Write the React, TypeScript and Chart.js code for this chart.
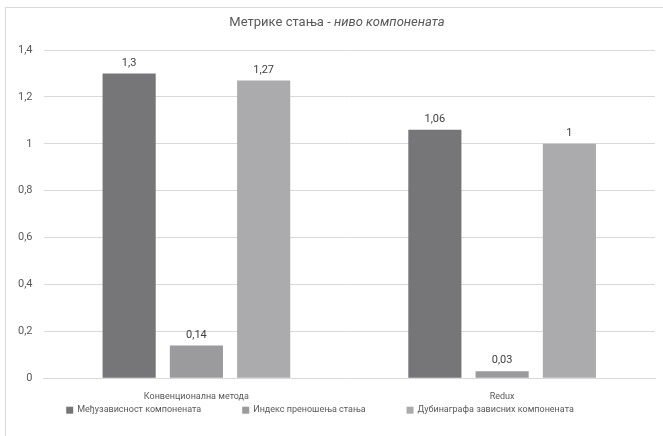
import React, { useEffect, useRef } from "react";
import { Chart, registerables } from "chart.js";

Chart.register(...registerables);

const categories = ["Конвенционална метода", "Redux"];
const seriesNames = ["Међузависност компонената", "Индекс преношења стања", "Дубинаграфа зависних компонената"];
const seriesA = [1.3, 1.06];
const seriesB = [0.14, 0.03];
const seriesC = [1.27, 1];
const seriesColors = ["#767679", "#9b9b9d", "#ababae"];
const yTicks = [0, 0.2, 0.4, 0.6, 0.8, 1, 1.2, 1.4];

const FONT = "Roboto, 'Open Sans', sans-serif";
const fmt = (v: number) => String(v).replace(".", ",");

const customPlugin = {
  id: "custom",
  afterDatasetsDraw(chart: any) {
    const ctx = chart.ctx;
    ctx.save();
    ctx.fillStyle = "#404040";
    ctx.font = `11px ${FONT}`;
    ctx.textAlign = "center";
    ctx.textBaseline = "bottom";
    chart.data.datasets.forEach((ds: any, i: number) => {
      const meta = chart.getDatasetMeta(i);
      meta.data.forEach((bar: any, j: number) => {
        ctx.fillText(fmt(ds.data[j]), bar.x, bar.y - 5);
      });
    });
    ctx.restore();
  },
  afterDraw(chart: any) {
    const ctx = chart.ctx;
    const area = chart.chartArea;
    ctx.save();
    // title
    const t1 = "Метрике стања - ";
    const t2 = "ниво компонената";
    ctx.fillStyle = "#595959";
    ctx.textBaseline = "middle";
    ctx.font = `13px ${FONT}`;
    const w1 = ctx.measureText(t1).width;
    ctx.font = `italic 13px ${FONT}`;
    const w2 = ctx.measureText(t2).width;
    const cx = 337;
    let x = cx - (w1 + w2) / 2;
    ctx.textAlign = "left";
    ctx.font = `13px ${FONT}`;
    ctx.fillText(t1, x, 23);
    ctx.font = `italic 13px ${FONT}`;
    ctx.fillText(t2, x + w1, 23);
    // legend
    ctx.font = `9px ${FONT}`;
    const box = 7;
    const gap = 4;
    const spacing = 41;
    const widths = seriesNames.map((n) => box + gap + ctx.measureText(n).width);
    const total = widths.reduce((a, b) => a + b, 0) + spacing * (widths.length - 1);
    let lx = 320 - total / 2;
    const ly = area.bottom + 32;
    seriesNames.forEach((n, i) => {
      ctx.fillStyle = seriesColors[i];
      ctx.fillRect(lx, ly - box / 2, box, box);
      ctx.fillStyle = "#595959";
      ctx.fillText(n, lx + box + gap, ly);
      lx += widths[i] + spacing;
    });
    ctx.restore();
  },
};

export default function App() {
  const ref = useRef<HTMLCanvasElement>(null);
  useEffect(() => {
    if (!ref.current) return;
    const chart = new Chart(ref.current, {
      type: "bar",
      data: {
        labels: categories,
        datasets: [seriesA, seriesB, seriesC].map((d, i) => ({
          label: seriesNames[i],
          data: d,
          backgroundColor: seriesColors[i],
          borderWidth: 0,
          barPercentage: 0.79,
          categoryPercentage: 0.66,
        })),
      },
      options: {
        animation: false,
        responsive: false,
        maintainAspectRatio: false,
        layout: { padding: { left: 7, right: 8, top: 50, bottom: 29 } },
        plugins: {
          legend: { display: false },
          title: { display: false },
          tooltip: { enabled: false },
        },
        scales: {
          x: {
            grid: { display: false },
            border: { display: true, color: "#d9d9d9" },
            ticks: { color: "#595959", font: { family: FONT, size: 9 }, padding: 5 },
          },
          y: {
            min: 0,
            max: 1.4,
            afterBuildTicks: (s: any) => {
              s.ticks = yTicks.map((v) => ({ value: v }));
            },
            grid: { color: "#d9d9d9", drawTicks: false },
            border: { display: false },
            ticks: {
              color: "#595959",
              font: { family: FONT, size: 11 },
              padding: 11,
              callback: (v: any) => fmt(Number(v)),
            },
          },
        },
      },
      plugins: [customPlugin],
    });
    return () => chart.destroy();
  }, []);
  return (
    <div style={{ position: "fixed", left: 0, top: 0, width: 663, height: 436, background: "#fff", overflow: "hidden" }}>
      <div style={{ position: "absolute", left: 5, top: 7, width: 800, height: 600, borderLeft: "1px solid #d9d9d9", borderTop: "1px solid #d9d9d9" }} />
      <canvas ref={ref} width={663} height={436} style={{ position: "absolute", left: 0, top: 0 }} />
    </div>
  );
}
